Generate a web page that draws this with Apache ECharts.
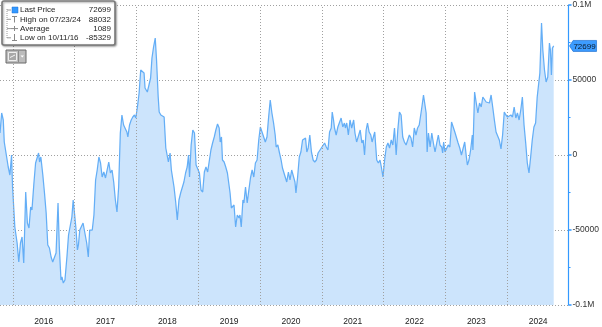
<!DOCTYPE html>
<html>
<head>
<meta charset="utf-8">
<script src="https://cdn.jsdelivr.net/npm/echarts@6/dist/echarts.min.js"></script>
<style>
html,body{margin:0;padding:0;background:#fff;}
#chart{width:602px;height:327px;}
</style>
</head>
<body>
<div id="chart"></div>
<script>
// Decimal-year time stamps
const timeYears = [
2015.792,2015.819,2015.845,2015.861,2015.888,2015.925,2015.952,2015.979,2015.995,2016.032,
2016.069,2016.096,2016.123,2016.149,2016.176,2016.208,2016.235,2016.261,2016.288,2016.309,
2016.341,2016.368,2016.389,2016.416,2016.432,2016.453,2016.485,2016.512,2016.539,2016.565,
2016.592,2016.619,2016.645,2016.677,2016.699,2016.731,2016.752,2016.779,2016.795,2016.816,
2016.843,2016.875,2016.901,2016.928,2016.955,2016.976,2016.997,2017.019,2017.045,2017.061,
2017.083,2017.115,2017.136,2017.168,2017.195,2017.221,2017.243,2017.285,2017.312,2017.339,
2017.365,2017.392,2017.419,2017.445,2017.472,2017.499,2017.525,2017.552,2017.579,2017.605,
2017.632,2017.659,2017.685,2017.712,2017.739,2017.765,2017.792,2017.819,2017.845,2017.861,
2017.888,2017.915,2017.941,2017.968,2017.989,2018.016,2018.043,2018.069,2018.101,2018.123,
2018.139,2018.155,2018.176,2018.203,2018.229,2018.251,2018.277,2018.304,2018.325,2018.352,
2018.368,2018.395,2018.421,2018.448,2018.475,2018.496,2018.517,2018.544,2018.565,2018.587,
2018.608,2018.635,2018.661,2018.688,2018.715,2018.741,2018.768,2018.795,2018.821,2018.843,
2018.859,2018.885,2018.912,2018.939,2018.965,2018.992,2019.019,2019.045,2019.072,2019.099,
2019.125,2019.152,2019.179,2019.205,2019.232,2019.259,2019.285,2019.312,2019.339,2019.355,
2019.376,2019.392,2019.419,2019.445,2019.472,2019.499,2019.515,2019.536,2019.563,2019.579,
2019.605,2019.632,2019.659,2019.675,2019.696,2019.723,2019.739,2019.765,2019.792,2019.819,
2019.845,2019.872,2019.899,2019.925,2019.952,2019.979,2020.005,2020.032,2020.059,2020.085,
2020.112,2020.139,2020.165,2020.192,2020.219,2020.245,2020.261,2020.288,2020.315,2020.341,
2020.363,2020.389,2020.432,2020.459,2020.485,2020.512,2020.539,2020.565,2020.581,2020.608,
2020.635,2020.661,2020.688,2020.715,2020.736,2020.757,2020.779,2020.805,2020.832,2020.859,
2020.885,2020.912,2020.939,2020.965,2020.992,2021.019,2021.045,2021.072,2021.099,2021.125,
2021.152,2021.168,2021.189,2021.205,2021.232,2021.259,2021.285,2021.312,2021.339,2021.365,
2021.381,2021.403,2021.429,2021.456,2021.483,2021.515,2021.536,2021.563,2021.589,2021.621,
2021.648,2021.669,2021.691,2021.717,2021.739,2021.765,2021.792,2021.813,2021.835,2021.856,
2021.888,2021.915,2021.941,2021.963,2021.989,2022.016,2022.043,2022.069,2022.096,2022.123,
2022.149,2022.176,2022.203,2022.229,2022.256,2022.283,2022.309,2022.336,2022.363,2022.389,
2022.416,2022.443,2022.469,2022.496,2022.523,2022.549,2022.576,2022.592,2022.619,2022.645,
2022.672,2022.688,2022.704,2022.725,2022.752,2022.779,2022.805,2022.832,2022.859,2022.885,
2022.912,2022.939,2022.955,2022.971,2022.992,2023.019,2023.045,2023.072,2023.099,2023.125,
2023.152,2023.179,2023.205,2023.232,2023.259,2023.285,2023.312,2023.339,2023.355,2023.381,
2023.408,2023.435,2023.445,2023.472,2023.499,2023.525,2023.552,2023.579,2023.605,2023.632,
2023.659,2023.685,2023.712,2023.739,2023.765,2023.792,2023.819,2023.845,2023.872,2023.899,
2023.925,2023.952,2023.979,2024.005,2024.032,2024.059,2024.085,2024.112,2024.139,2024.165,
2024.192,2024.219,2024.245,2024.272,2024.299,2024.325,2024.352,2024.379,2024.405,2024.432,
2024.459,2024.485,2024.512,2024.528,2024.555,2024.576,2024.603,2024.629,2024.656,2024.683,
2024.699,2024.715,2024.731,2024.752
];
// Last Price values
const lastPrice = [
14667,28000,23333,8667,8000,-8000,-13333,0,-21333,-48000,
-58667,-71333,-58667,-54667,-72000,-24667,-45333,-48667,-34667,-36667,
-18667,-5333,-4667,1333,-4667,-1333,-13333,-25333,-38667,-60000,
-62000,-68000,-71333,-70000,-65333,-32000,-61333,-83333,-81333,-85329,
-83333,-68000,-53333,-52000,-41333,-30000,-38667,-48000,-63333,-60000,
-50000,-50000,-45333,-44667,-58667,-68000,-50000,-50000,-40000,-16667,
-10000,-1333,-5333,-14667,-11333,-15333,-14667,-4667,-12000,-10000,
-18000,-30000,-38000,-21333,14667,26667,20000,18667,15333,12000,
20000,23333,25333,26667,24667,32000,41333,56667,58000,54667,
44667,45333,42000,42000,51333,64667,72000,78000,63333,38667,
28667,26667,28000,25333,4667,5333,-4667,1333,-10000,-11333,
-21333,-31333,-43333,-30000,-25333,-24667,-18000,-12000,-8000,0,
-14667,6667,16667,14667,-6667,-6667,-12000,-23333,-24667,-11333,
-8000,-11333,-10000,3333,8000,12000,16667,20667,18000,8667,
12000,-3333,-4667,-8000,-12000,-13333,-25333,-35333,-35333,-33333,
-48000,-40000,-42000,-40000,-48000,-30000,-32000,-21333,-32000,-23333,
-15333,-10000,-14667,-5333,-3333,10000,18667,20000,12000,8667,
12000,25333,36667,28000,21333,13333,5333,6667,1333,-3333,
-8667,-8667,-18000,-11333,-16667,-10000,-8667,-18000,-25333,-14667,
-1333,2000,10000,8667,11333,2000,4667,13333,2000,-3333,
-4667,-3333,1333,2000,4667,5333,8000,5333,3333,15333,
18000,28667,23333,18000,13333,18667,20000,24667,18667,21333,
18000,21333,13333,23333,18000,23333,14667,8667,8000,16667,
8000,10000,0,16667,21333,15333,13333,8667,10000,15333,
-3333,-5333,-3333,-8000,-14667,-3333,5333,8000,4667,10000,
6667,18000,0,16667,28667,26667,12000,8667,6667,6667,
13333,11333,5333,18000,13333,18000,20000,18667,32000,40000,
40000,28000,2000,14667,5333,14667,8000,2000,8000,13333,
6667,5333,1333,8667,2000,2000,6667,5333,22000,21333,
15333,15333,8000,4667,0,-1333,8667,-1333,-6667,-3333,
3333,13333,3333,42000,34667,28000,34667,32000,38667,38667,
35333,35333,34667,40000,32000,23333,15333,14667,10000,4000,
13333,28667,26667,25333,25333,26667,25333,32000,24667,28000,
23333,30000,38667,20000,8000,-5333,-12000,-1333,10000,18667,
21333,38667,40000,54667,88032,70000,56667,48667,52000,74667,
70000,53333,71333,72699
];
// Axis labels / boundaries
const yearLabels = ['2016','2017','2018','2019','2020','2021','2022','2023','2024'];
const yearStarts = [2016,2017,2018,2019,2020,2021,2022,2023,2024];
const xRange = [2015.792, 2024.992];
const yTickValues = [-100000,-50000,0,50000,100000];
const yTickLabels = ['-0.1M','-50000','0','50000','0.1M'];
// Legend texts
const legendNames = ['Last Price','High on 07/23/24','Average','Low on 10/11/16'];
const legendValues = ['72699','88032','1089','-85329'];
const lastValue = lastPrice[lastPrice.length-1];

const chart = echarts.init(document.getElementById('chart'), null, {renderer:'canvas'});
const FONT = 'Liberation Sans, Arial, sans-serif';
const dotted = {color:'#a0a0a0', width:1, type:[1,2]};

const legendGraphics = [];
legendGraphics.push({type:'rect', shape:{x:2, y:1, width:113, height:44, r:2},
  style:{fill:'#ffffff', stroke:'#7a7a7a', lineWidth:1.6, shadowColor:'rgba(0,0,0,0.35)', shadowBlur:2, shadowOffsetX:1, shadowOffsetY:1}, z:100});
legendGraphics.push({type:'line', shape:{x1:7, y1:9, x2:7, y2:39}, style:{stroke:'#9a9a9a', lineWidth:1, lineDash:[1,1]}, z:101});
const rowY = [10, 19.3, 28.6, 37.8];
rowY.forEach((y, i) => {
  legendGraphics.push({type:'line', shape:{x1:7, y1:y, x2:11, y2:y}, style:{stroke:'#9a9a9a', lineWidth:1}, z:101});
  legendGraphics.push({type:'text', x:20, y:y, style:{text:legendNames[i], font:'8px ' + FONT, fill:'#1e1e1e', verticalAlign:'middle', align:'left'}, z:102});
  legendGraphics.push({type:'text', x:111, y:y, style:{text:legendValues[i], font:'8px ' + FONT, fill:'#1e1e1e', verticalAlign:'middle', align:'right'}, z:102});
});
legendGraphics.push({type:'rect', shape:{x:12, y:7, width:6, height:6}, style:{fill:'#3399ff', stroke:'#1f6fd0', lineWidth:0.5}, z:102});
legendGraphics.push({type:'line', shape:{x1:12, y1:16.5, x2:17, y2:16.5}, style:{stroke:'#888', lineWidth:1}, z:102});
legendGraphics.push({type:'line', shape:{x1:14.5, y1:16.5, x2:14.5, y2:22.5}, style:{stroke:'#888', lineWidth:1}, z:102});
legendGraphics.push({type:'line', shape:{x1:11, y1:28.6, x2:18, y2:28.6}, style:{stroke:'#888', lineWidth:1}, z:102});
legendGraphics.push({type:'line', shape:{x1:14.5, y1:26, x2:14.5, y2:31}, style:{stroke:'#888', lineWidth:1}, z:102});
legendGraphics.push({type:'line', shape:{x1:14.5, y1:34, x2:14.5, y2:40.5}, style:{stroke:'#888', lineWidth:1}, z:102});
legendGraphics.push({type:'line', shape:{x1:12, y1:40.5, x2:17, y2:40.5}, style:{stroke:'#888', lineWidth:1}, z:102});
legendGraphics.push({type:'rect', shape:{x:6, y:50, width:20, height:13}, style:{fill:'#bcbcbc', stroke:'#6a6a6a', lineWidth:1}, z:100});
legendGraphics.push({type:'rect', shape:{x:8.5, y:52.5, width:8, height:8}, style:{fill:'#a8a8a8', stroke:'#eeeeee', lineWidth:1}, z:101});
legendGraphics.push({type:'line', shape:{x1:10, y1:57.5, x2:15, y2:55}, style:{stroke:'#f4f4f4', lineWidth:1}, z:102});
legendGraphics.push({type:'line', shape:{x1:18.5, y1:51, x2:18.5, y2:62}, style:{stroke:'#8a8a8a', lineWidth:1}, z:101});
legendGraphics.push({type:'polygon', shape:{points:[[20.5,55.5],[24,55.5],[22.25,57.5]]}, style:{fill:'#ffffff'}, z:101});

const option = {
  backgroundColor:'#ffffff',
  animation:false,
  grid:{left:0, right:27, top:5, bottom:22, containLabel:false},
  xAxis:{
    type:'value', min:xRange[0], max:xRange[1],
    axisLine:{show:false}, axisTick:{show:false},
    axisLabel:{show:true, color:'#222', fontFamily:FONT, fontSize:8.5, margin:12,
      customValues:yearStarts.map(y => y + 0.5),
      formatter:(v) => yearLabels[yearStarts.indexOf(Math.floor(v))] || ''},
    splitLine:{show:false}
  },
  yAxis:{
    type:'value', position:'right', min:-100000, max:100000, interval:50000,
    axisLine:{show:true, lineStyle:{color:'#3399ff', width:1.2}},
    axisTick:{show:true, inside:false, length:3, lineStyle:{color:'#3399ff', width:1.5}},
    minorTick:{show:true, splitNumber:2, length:2, lineStyle:{color:'#3399ff', width:1}},
    axisLabel:{color:'#333', fontFamily:FONT, fontSize:8.5, margin:4,
      formatter:(v) => { const k = yTickValues.indexOf(v); return k >= 0 ? yTickLabels[k] : ''; }},
    splitLine:{show:true, lineStyle:dotted}
  },
  series:[{
    type:'line',
    data:timeYears.map((t,i) => [t, lastPrice[i]]),
    showSymbol:false, symbol:'none',
    lineStyle:{color:'#64aef6', width:1.25},
    areaStyle:{color:'#cce4fc', opacity:1, origin:'start'},
    z:2,
    markLine:{
      silent:true, symbol:'none', animation:false,
      label:{show:false},
      lineStyle:dotted,
      data:yearStarts.map(y => ({xAxis:y}))
    },
    markPoint:{
      symbol:'path://M0,5 L4,0 L30,0 L30,10 L4,10 Z',
      symbolSize:[27,11], symbolKeepAspect:false,
      symbolOffset:[14.5,0],
      itemStyle:{color:'#3d9cff', borderColor:'#1e6fcf', borderWidth:0.6},
      label:{show:true, color:'#0d1b2a', fontFamily:FONT, fontSize:8, offset:[1.5,0.5],
        formatter:() => String(lastValue)},
      data:[{coord:[xRange[1], lastValue], value:lastValue}]
    }
  }],
  graphic:legendGraphics
};
chart.setOption(option);
</script>
</body>
</html>
